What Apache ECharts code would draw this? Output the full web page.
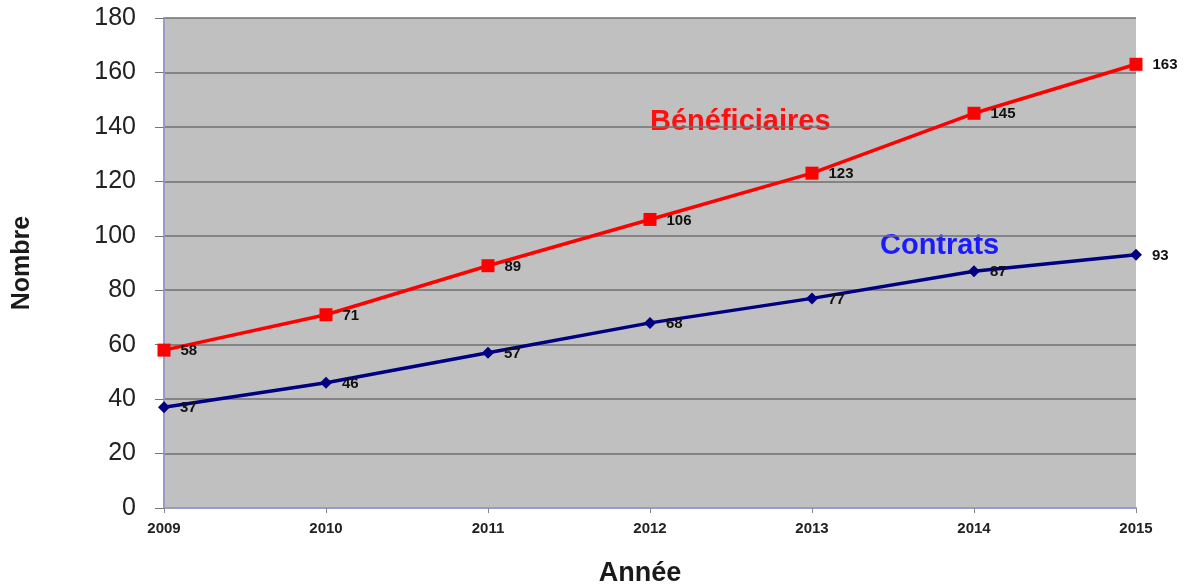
<!DOCTYPE html>
<html><head><meta charset="utf-8">
<script src="https://cdn.jsdelivr.net/npm/echarts@6/dist/echarts.min.js"></script>
<style>html,body{margin:0;padding:0;background:#fff}#c{width:1192px;height:586px}</style>
</head><body><div id="c"></div>
<script>
var years = ['2009','2010','2011','2012','2013','2014','2015'];
var beneficiaires = [58, 71, 89, 106, 123, 145, 163];
var contrats = [37, 46, 57, 68, 77, 87, 93];
var yTicks = {min: 0, max: 180, interval: 20};

var chart = echarts.init(document.getElementById('c'));
var lbl = {show: true, position: 'right', distance: 10, offset: [0, 1], color: '#111', fontFamily: 'Liberation Sans, Arial', fontWeight: 'bold', fontSize: 15};
chart.setOption({
  animation: false,
  grid: {left: 164, right: 56, top: 18, bottom: 78, show: true, backgroundColor: '#c0c0c0', borderWidth: 0, outerBoundsMode: 'none', containLabel: false},
  xAxis: {
    type: 'category', data: years, boundaryGap: false,
    name: 'Année', nameLocation: 'middle', nameGap: 52,
    nameTextStyle: {fontFamily: 'Liberation Sans, Arial', fontWeight: 'bold', fontSize: 27, color: '#1a1a1a', padding: [0, 20, 0, 0]},
    axisLine: {lineStyle: {color: '#9a9acc', width: 2}},
    axisTick: {show: true, alignWithLabel: true, length: 5, lineStyle: {color: '#888'}},
    axisLabel: {fontFamily: 'Liberation Sans, Arial', fontWeight: 'bold', fontSize: 15, color: '#222', margin: 13},
    splitLine: {show: false}
  },
  yAxis: {
    type: 'value', min: yTicks.min, max: yTicks.max, interval: yTicks.interval,
    name: 'Nombre', nameLocation: 'middle', nameGap: 129, nameRotate: 90,
    nameTextStyle: {fontFamily: 'Liberation Sans, Arial', fontWeight: 'bold', fontSize: 25, color: '#1a1a1a', padding: [0, 0, 0, 0]},
    axisLine: {show: true, lineStyle: {color: '#9a9acc', width: 2}},
    axisTick: {show: true, length: 9, lineStyle: {color: '#777'}},
    axisLabel: {fontFamily: 'Liberation Sans, Arial', fontSize: 25, color: '#222', margin: 28},
    splitLine: {lineStyle: {color: '#707070', width: 1.5}}
  },
  graphic: [
    {type: 'text', left: 650, top: 107, style: {text: 'Bénéficiaires', fill: '#ff1010', font: 'bold 29px "Liberation Sans", Arial'}},
    {type: 'text', left: 880, top: 231, style: {text: 'Contrats', fill: '#1a1aff', font: 'bold 29px "Liberation Sans", Arial'}}
  ],
  series: [
    {name: 'Bénéficiaires', type: 'line', data: beneficiaires, symbol: 'rect', symbolSize: 13,
     lineStyle: {color: '#ff0000', width: 3.5}, itemStyle: {color: '#ff0000'}, label: lbl},
    {name: 'Contrats', type: 'line', data: contrats, symbol: 'diamond', symbolSize: 12,
     lineStyle: {color: '#000080', width: 3.5}, itemStyle: {color: '#000080'}, label: lbl}
  ]
});
</script></body></html>
